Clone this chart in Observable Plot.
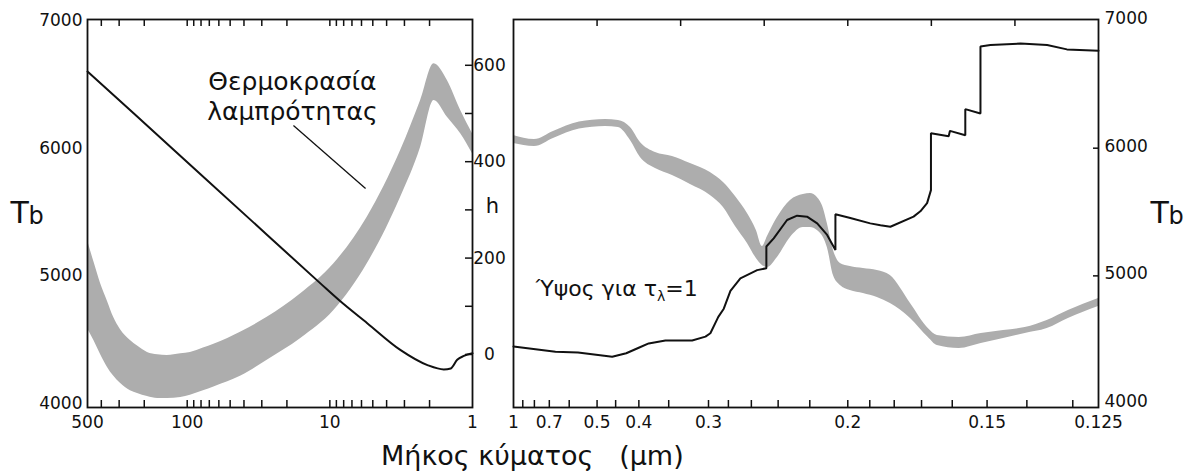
<!DOCTYPE html>
<html><head><meta charset="utf-8">
<script src="https://cdn.jsdelivr.net/npm/d3@7"></script>
<script src="https://cdn.jsdelivr.net/npm/@observablehq/plot@0.6"></script>
<style>
body{margin:0;background:#fff;}
#chart{position:relative;width:1189px;height:475px;font-family:"DejaVu Sans",sans-serif;background:#fff;}
#chart svg{position:absolute;left:0;top:0;}
#xlabel{position:absolute;left:381px;top:442px;font-size:27px;line-height:27px;white-space:pre;color:#111;}
</style></head>
<body><div id="chart"><div id="xlabel">Μήκος κύματος   (μm)</div></div>
<script>
// ---------- data ----------
// Left panel: wavelength (μm, log axis), brightness temperature band Tb (K)
const leftLambda = [500, 451, 405, 362, 328, 294, 250, 223, 190, 161, 138, 111, 95, 77, 65, 52, 42, 27.5, 16, 9.37, 5.47, 3.19, 2.31, 1.86, 1.5, 1.21, 1];
const leftTbHigh = [5277, 5110, 4941, 4800, 4675, 4580, 4494, 4450, 4400, 4382, 4377, 4390, 4400, 4435, 4465, 4510, 4560, 4675, 4860, 5095, 5460, 5982, 6374, 6661, 6530, 6295, 6113];
const leftTbLow  = [4588, 4494, 4385, 4283, 4215, 4158, 4100, 4079, 4055, 4040, 4040, 4048, 4065, 4100, 4130, 4170, 4215, 4340, 4510, 4729, 5095, 5616, 6008, 6374, 6243, 6113, 5956];
// Left panel: height h (km) of tau=1
const leftHLambda = [500, 236.5, 80.7, 27.5, 11.6, 8.64, 5.47, 3.19, 2.07, 1.59, 1.42, 1.28, 1.15, 1];
const leftH       = [587, 500, 374, 248, 147, 113, 65, 9, -22, -31, -29, -11, -3, 2.5];
// Right panel: wavelength (μm, axis linear in 1/λ)
const rightLambda = [1.0, 0.7993, 0.6766, 0.559, 0.4762, 0.4433, 0.4167, 0.397, 0.3705, 0.3446, 0.3208, 0.298, 0.2847, 0.2735, 0.2632, 0.256, 0.2514, 0.2476, 0.2405, 0.2318, 0.2238, 0.2196, 0.2157, 0.2124, 0.2103, 0.2071, 0.2036, 0.1988, 0.1928, 0.1868, 0.1815, 0.1739, 0.1677, 0.1647, 0.1579, 0.1516, 0.1457, 0.1404, 0.1354, 0.1309, 0.125];
const rightTbHigh = [6100, 6068, 6131, 6205, 6225, 6217, 6162, 6045, 5966, 5935, 5880, 5810, 5732, 5622, 5489, 5356, 5230, 5309, 5457, 5591, 5638, 5645, 5614, 5528, 5410, 5199, 5097, 5074, 5058, 5043, 5003, 4784, 4588, 4533, 4518, 4549, 4573, 4596, 4651, 4729, 4823];
const rightTbLow  = [6037, 6013, 6076, 6150, 6170, 6162, 6060, 5927, 5841, 5786, 5716, 5630, 5536, 5387, 5254, 5136, 5082, 5066, 5144, 5301, 5379, 5379, 5356, 5301, 5223, 5003, 4925, 4886, 4862, 4831, 4784, 4667, 4518, 4455, 4432, 4471, 4510, 4549, 4588, 4667, 4761];
const rightHLambda = [1.0, 0.6658, 0.5643, 0.4585, 0.4257, 0.4002, 0.382, 0.3549, 0.3187, 0.3033, 0.298, 0.2898, 0.2844, 0.2781, 0.2692, 0.2554, 0.2484, 0.2484, 0.2431, 0.234, 0.2276, 0.2216, 0.2158, 0.2104, 0.2061, 0.2061, 0.1988, 0.1898, 0.1855, 0.1815, 0.1728, 0.1704, 0.1681, 0.1668, 0.1668, 0.1611, 0.1607, 0.1561, 0.1561, 0.1518, 0.1518, 0.1491, 0.1415, 0.1354, 0.1312, 0.125];
const rightH       = [16.6, 5.8, 4, -4.6, 2.5, 14, 23, 29, 29, 37, 44, 78, 95, 132, 158, 175, 179, 224, 241, 279, 288, 286, 272, 248, 217, 291, 283, 272, 268, 265, 286, 297, 314, 341, 459, 453, 464, 455, 509, 500, 639, 642, 645, 642, 633, 630];
// axes
const tbTicks = [4000, 5000, 6000, 7000];
const tbInnerTicks = [5000, 6000];
const hTicks = [0, 200, 400, 600];
const hMinorTicks = [0, 100, 200, 300, 400, 500, 600];
const leftXLabels = [500, 100, 10, 1];
const leftXMinor = [400, 300, 200, 100, 90, 80, 70, 60, 50, 40, 30, 20, 10, 9, 8, 7, 6, 5, 4, 3, 2];
const rightXLabels = [1, 0.7, 0.5, 0.4, 0.3, 0.2, 0.15, 0.125];
const rightXMinor = [0.9, 0.8, 0.7, 0.6, 0.5, 0.45, 0.4, 0.35, 0.3, 0.28, 0.26, 0.24, 0.22, 0.2, 0.19, 0.18, 0.17, 0.16, 0.15, 0.14, 0.13];
const rightTopWavenumbers = [2, 3, 4, 5, 6, 7];
// annotations (data units)
const tbNote = [{lambda: 18.3, tb: 6413, text: "Θερμοκρασία\nλαμπρότητας"}];
const tbPointer = [{l1: 18, t1: 6178, l2: 5.62, t2: 5685}];
const hNoteText = "Ύψος για τλ=1";
const hNote = [{lambda: 0.79, h: 136, text: hNoteText}];

// ---------- tables ----------
const leftBand = leftLambda.map((l, i) => ({lambda: l, lo: leftTbLow[i], hi: leftTbHigh[i]}));
const leftLine = leftHLambda.map((l, i) => ({lambda: l, h: leftH[i]}));
const rightBand = rightLambda.map((l, i) => ({lambda: l, lo: rightTbLow[i], hi: rightTbHigh[i]}));
const rightLine = rightHLambda.map((l, i) => ({lambda: l, h: rightH[i]}));

const W = 1189, H = 440, MT = 19, MB = 33;
const LEFT = {marginLeft: 87, marginRight: W - 472};
const RIGHT = {marginLeft: 513, marginRight: W - 1098};
const frameH = H - MT - MB;
const TB_DOMAIN = [3969, 7008];
const H_DOMAIN = [-110, 695];
const LOG_DOMAIN = [500, 1];
const GRAY = "#adadad";
const FS = 17;
const fmtW = w => String(+(1 / w).toPrecision(6));

function make(opts) {
  const svg = Plot.plot({width: W, height: H, marginTop: MT, marginBottom: MB, ...opts});
  svg.style.background = "transparent";
  svg.style.position = "absolute";
  svg.style.left = "0px";
  svg.style.top = "0px";
  svg.style.overflow = "visible";
  svg.style.maxWidth = "none";
  svg.style.fontFamily = "'DejaVu Sans', sans-serif";
  svg.style.fontSize = FS + "px";
  svg.style.color = "#111";
  document.getElementById("chart").appendChild(svg);
  return svg;
}

// 1) left panel, Tb scale
make({
  ...LEFT,
  x: {type: "log", domain: LOG_DOMAIN, axis: null},
  y: {domain: TB_DOMAIN, axis: null},
  marks: [
    Plot.areaY(leftBand, {x: "lambda", y1: "lo", y2: "hi", fill: GRAY, curve: "monotone-x"}),
    Plot.axisY({anchor: "left", label: null, ticks: tbTicks, tickSize: 0, tickPadding: 5, tickFormat: d => String(d), fontSize: FS}),
    // log-axis tick labels
    Plot.text(leftXLabels, {x: d => d, text: d => String(d), frameAnchor: "bottom", lineAnchor: "top", dy: 8, fontSize: FS, fill: "#111"}),
    Plot.tickX(leftXMinor, {x: d => d, insetTop: frameH - 7, strokeWidth: 1.5}),
    Plot.tickX(leftXMinor, {x: d => d, insetBottom: frameH - 7, strokeWidth: 1.5}),
    Plot.text(tbNote, {x: "lambda", y: "tb", text: "text", fontSize: 25, lineHeight: 1.2, textAnchor: "middle", fill: "#111"}),
    Plot.link(tbPointer, {x1: "l1", y1: "t1", x2: "l2", y2: "t2", stroke: "#111", strokeWidth: 1.3}),
    Plot.text(["T"], {frameAnchor: "left", dx: -77, textAnchor: "start", fontSize: 30, fill: "#111"}),
    Plot.text(["b"], {frameAnchor: "left", dx: -59, dy: 3, textAnchor: "start", fontSize: 24, fill: "#111"}),
    Plot.frame({stroke: "#111", strokeWidth: 1.8})
  ]
});

// 2) left panel, h scale
make({
  ...LEFT,
  x: {type: "log", domain: LOG_DOMAIN, axis: null},
  y: {domain: H_DOMAIN, axis: null},
  marks: [
    Plot.line(leftLine, {x: "lambda", y: "h", stroke: "#111", strokeWidth: 2, curve: "monotone-x"}),
    Plot.tickY(hMinorTicks, {y: d => d, insetLeft: 385 - 7, strokeWidth: 1.5}),
    Plot.axisY({anchor: "right", label: null, ticks: hTicks, tickSize: 0, tickPadding: 17, textAnchor: "middle", tickFormat: d => String(d), fontSize: FS}),
    Plot.text(["h"], {frameAnchor: "right", dx: 20, dy: -7, textAnchor: "middle", fontSize: 21, fill: "#111"})
  ]
});

// 3) right panel, Tb scale
make({
  ...RIGHT,
  x: {type: "linear", domain: [1, 8], axis: null},
  y: {domain: TB_DOMAIN, axis: null},
  marks: [
    Plot.areaY(rightBand, {x: d => 1 / d.lambda, y1: "lo", y2: "hi", fill: GRAY, curve: "monotone-x"}),
    Plot.axisY({anchor: "right", label: null, ticks: tbTicks, tickSize: 0, tickPadding: 6, dy: -2, tickFormat: d => String(d), fontSize: FS}),
    Plot.tickY(tbInnerTicks, {y: d => d, insetLeft: 585 - 5, strokeWidth: 1.5}),
    Plot.axisX({anchor: "bottom", label: null, ticks: rightXLabels.map(l => 1 / l), tickSize: 0, tickPadding: 8, tickFormat: fmtW, fontSize: FS}),
    Plot.tickX(rightXMinor, {x: d => 1 / d, insetTop: frameH - 7, strokeWidth: 1.5}),
    Plot.tickX(rightTopWavenumbers, {x: d => d, insetBottom: frameH - 7, strokeWidth: 1.5}),
    Plot.text(["T"], {frameAnchor: "right", dx: 52, textAnchor: "start", fontSize: 30, fill: "#111"}),
    Plot.text(["b"], {frameAnchor: "right", dx: 70, dy: 3, textAnchor: "start", fontSize: 24, fill: "#111"}),
    Plot.frame({stroke: "#111", strokeWidth: 1.8})
  ]
});

// 4) right panel, h scale
const svgRH = make({
  ...RIGHT,
  x: {type: "linear", domain: [1, 8], axis: null},
  y: {domain: H_DOMAIN, axis: null},
  marks: [
    Plot.line(rightLine, {x: d => 1 / d.lambda, y: "h", stroke: "#111", strokeWidth: 2, strokeLinejoin: "miter"}),
    Plot.text(hNote, {x: d => 1 / d.lambda, y: "h", text: "text", fontSize: 22, textAnchor: "start", fill: "#111"})
  ]
});

// subscript λ in τλ
d3.select(svgRH).selectAll("text").filter(function () { return this.textContent === hNoteText; })
  .each(function () {
    const t = d3.select(this);
    t.text(null);
    t.append("tspan").text("Ύψος για τ");
    t.append("tspan").attr("font-size", 14).attr("dy", 5).text("λ");
    t.append("tspan").attr("dy", -5).text("=1");
  });
</script>
</body></html>
